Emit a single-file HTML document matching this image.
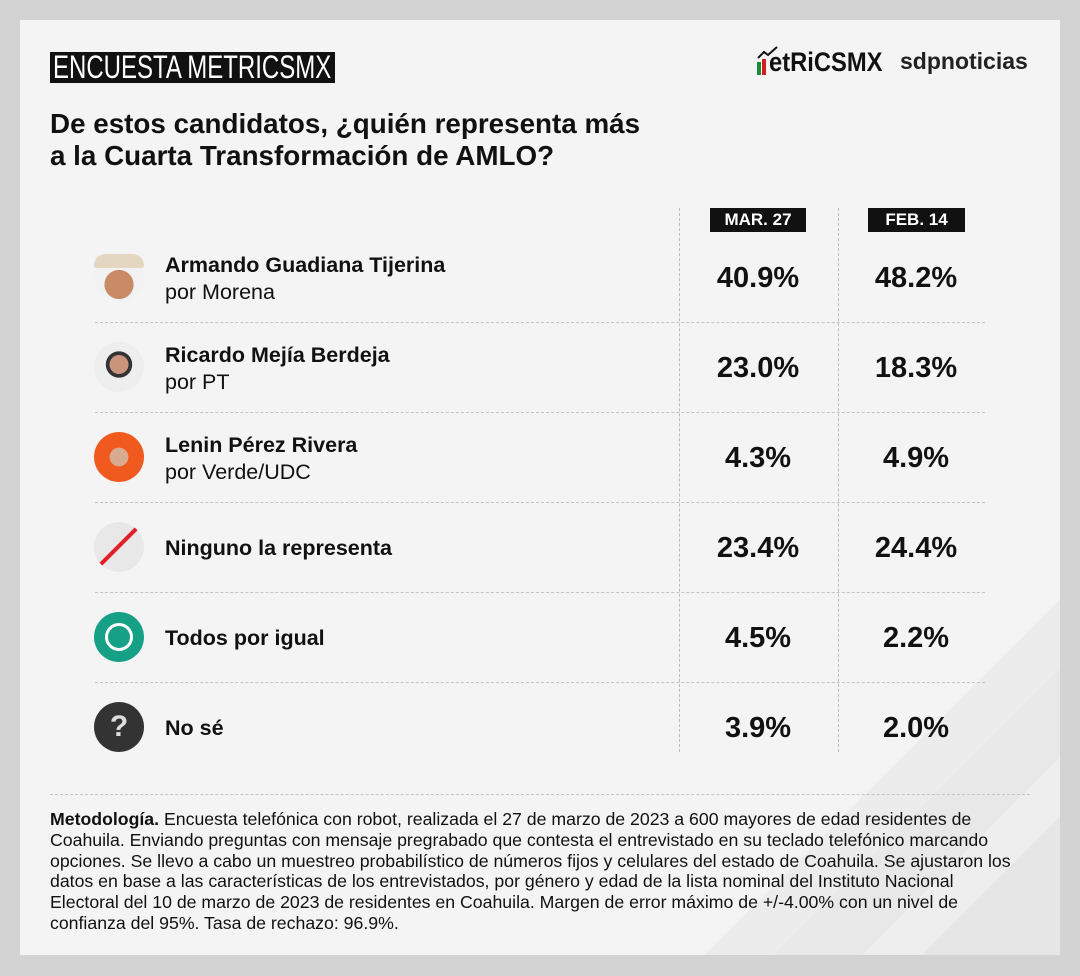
<!DOCTYPE html>
<html><head><meta charset="utf-8"><style>
body{margin:0;width:1080px;height:976px;background:#d3d3d3;font-family:"Liberation Sans",Arial,sans-serif;position:relative;overflow:hidden}
.card{position:absolute;left:20px;top:20px;width:1040px;height:935px;overflow:hidden;
background:linear-gradient(135deg,#f4f4f4 0,#f4f4f4 82%,#ececec 82%,#ececec 85.5%,#e8e8e8 85.5%,#e8e8e8 90%,#eeeeee 90%,#eeeeee 93%,#e6e6e6 93%)}
.abs{position:absolute}
.title{left:30px;top:32px;width:285px;height:31px;background:#111;overflow:hidden}
.title span{position:absolute;left:3px;top:-1px;white-space:nowrap;color:#fff;font-size:32px;line-height:33px;transform-origin:0 0;transform:scaleX(0.75)}
.q{left:30px;top:88px;font-weight:bold;font-size:27.8px;line-height:32px;color:#111;white-space:nowrap}
.badge{background:#111;color:#fff;font-weight:bold;font-size:17px;line-height:24px;text-align:center;height:24px}
.vl{border-left:1px dashed #bbb;width:0}
.hl{border-top:1px dashed #c4c4c4;height:0}
.name{left:145px;font-size:21.5px;color:#111;line-height:27px;white-space:nowrap}
.name b{display:block}
.val{font-weight:bold;font-size:29px;color:#111;text-align:center;width:140px}
.av{width:50px;height:50px;border-radius:50%}
.meth{left:30px;top:789px;width:966px;font-size:17.7px;line-height:20.8px;color:#111}
</style></head><body>
<div class="card">
<div class="abs title"><span>ENCUESTA METRICSMX</span></div>
<div class="abs" style="left:735px;top:20px;width:150px;height:36px">
 <svg width="130" height="36" class="abs" style="left:0;top:0"><polyline points="3,18 9,12 13,15 22,7" fill="none" stroke="#111" stroke-width="2"/><rect x="2" y="22" width="4" height="13" fill="#1a8a3a"/><rect x="7" y="19" width="4" height="16" fill="#d21e1e"/></svg>
 <span class="abs" style="left:14px;top:7px;font-weight:bold;font-size:27px;color:#111;white-space:nowrap;transform-origin:0 0;transform:scaleX(0.88)">etRiCSMX</span>
</div>
<div class="abs" style="left:880px;top:28px;font-size:23px;font-weight:bold;color:#222">sdpnoticias</div>
<div class="abs q">De estos candidatos, ¿quién representa más<br>a la Cuarta Transformación de AMLO?</div>
<div class="abs vl" style="left:659px;top:188px;height:544px"></div>
<div class="abs vl" style="left:818px;top:188px;height:544px"></div>
<div class="abs badge" style="left:690px;top:188px;width:96px">MAR. 27</div>
<div class="abs badge" style="left:848px;top:188px;width:97px">FEB. 14</div>

<div class="abs hl" style="left:75px;top:302px;width:890px"></div>
<div class="abs hl" style="left:75px;top:392px;width:890px"></div>
<div class="abs hl" style="left:75px;top:482px;width:890px"></div>
<div class="abs hl" style="left:75px;top:572px;width:890px"></div>
<div class="abs hl" style="left:75px;top:662px;width:890px"></div>

<div class="abs av" style="left:74px;top:232px;background:radial-gradient(circle at 50% 65%,#c98a66 0 35%,#f2f2f2 36%);"></div>
<div class="abs" style="left:74px;top:234px;width:50px;height:14px;background:#e4d7c2;border-radius:25px 25px 6px 6px"></div>
<div class="abs av" style="left:74px;top:322px;background:radial-gradient(circle at 50% 45%,#c9957a 0 25%,#333 26% 35%,#eee 36%);"></div>
<div class="abs av" style="left:74px;top:412px;background:radial-gradient(circle at 50% 50%,#d8aa90 0 26%,#f05a1e 27%);"></div>
<div class="abs av" style="left:74px;top:502px;background:#e8e8e8;overflow:hidden"><div class="abs" style="left:-3px;top:22px;width:56px;height:4px;background:#e0202a;transform:rotate(-45deg)"></div></div>
<div class="abs av" style="left:74px;top:592px;background:#16a085;"><div class="abs" style="left:11px;top:11px;width:22px;height:22px;border:3px solid #fff;border-radius:50%"></div></div>
<div class="abs av" style="left:74px;top:682px;background:#333;color:#ddd;font-weight:bold;font-size:30px;text-align:center;line-height:50px">?</div>

<div class="abs name" style="top:232px"><b>Armando Guadiana Tijerina</b>por Morena</div>
<div class="abs name" style="top:322px"><b>Ricardo Mejía Berdeja</b>por PT</div>
<div class="abs name" style="top:412px"><b>Lenin Pérez Rivera</b>por Verde/UDC</div>
<div class="abs name" style="top:515px"><b>Ninguno la representa</b></div>
<div class="abs name" style="top:605px"><b>Todos por igual</b></div>
<div class="abs name" style="top:695px"><b>No sé</b></div>

<div class="abs val" style="left:668px;top:242px">40.9%</div><div class="abs val" style="left:826px;top:242px">48.2%</div>
<div class="abs val" style="left:668px;top:332px">23.0%</div><div class="abs val" style="left:826px;top:332px">18.3%</div>
<div class="abs val" style="left:668px;top:422px">4.3%</div><div class="abs val" style="left:826px;top:422px">4.9%</div>
<div class="abs val" style="left:668px;top:512px">23.4%</div><div class="abs val" style="left:826px;top:512px">24.4%</div>
<div class="abs val" style="left:668px;top:602px">4.5%</div><div class="abs val" style="left:826px;top:602px">2.2%</div>
<div class="abs val" style="left:668px;top:692px">3.9%</div><div class="abs val" style="left:826px;top:692px">2.0%</div>

<div class="abs hl" style="left:30px;top:774px;width:980px"></div>
<div class="abs meth"><b>Metodología.</b> Encuesta telefónica con robot, realizada el 27 de marzo de 2023 a 600 mayores de edad residentes de Coahuila. Enviando preguntas con mensaje pregrabado que contesta el entrevistado en su teclado telefónico marcando opciones. Se llevo a cabo un muestreo probabilístico de números fijos y celulares del estado de Coahuila. Se ajustaron los datos en base a las características de los entrevistados, por género y edad de la lista nominal del Instituto Nacional Electoral del 10 de marzo de 2023 de residentes en Coahuila. Margen de error máximo de +/-4.00% con un nivel de confianza del 95%. Tasa de rechazo: 96.9%.</div>
</div>
</body></html>
